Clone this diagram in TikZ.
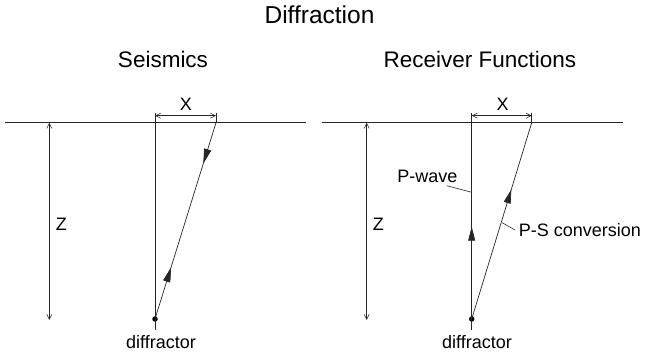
\documentclass[tikz,border=0pt]{standalone}
\usepackage{fontspec}
\setmainfont{Liberation Sans}
\usetikzlibrary{arrows.meta,decorations.markings}
\begin{document}
\begin{tikzpicture}[x=1pt,y=-1pt,line width=0.7pt,
  ln/.style={draw=black!85},
  dim/.style={draw=black!85,line width=0.6pt,{Straight Barb[length=5pt,width=5pt]}-{Straight Barb[length=5pt,width=5pt]}},
  lbl/.style={inner sep=0pt,anchor=base,font=\fontsize{18}{20}\selectfont},
  sub/.style={inner sep=0pt,anchor=base,font=\fontsize{22.5}{26}\selectfont},
  ttl/.style={inner sep=0pt,anchor=base,font=\fontsize{24.5}{28}\selectfont},
  dotn/.style={circle,fill=black,inner sep=0pt,minimum size=5.5pt},
  tipA/.style={decoration={markings,mark=at position #1 with {\arrow{Triangle[length=14pt,width=7pt]}}},postaction={decorate}},
  tipR/.style={decoration={markings,mark=at position #1 with {\arrowreversed{Triangle[length=14pt,width=7pt]}}},postaction={decorate}},
]
\useasboundingbox (0,0) rectangle (645,359);

% titles
\node[ttl] (title) at (319.5,23.3) {Diffraction};
\node[sub] (seis) at (163,67.5) {Seismics};
\node[sub] (rf) at (480,67.5) {Receiver Functions};

% ---------- left panel ----------
\coordinate (sL1) at (5,122.7);
\coordinate (sL2) at (306,122.7);
\coordinate (zLt) at (49.3,122.7);
\coordinate (zLb) at (49.3,320);
\coordinate (vLt) at (155,113);
\coordinate (vLb) at (155,330);
\coordinate (rL) at (216,122.7);
\coordinate (xLa) at (155,115.7);
\coordinate (xLb) at (216,115.7);
\coordinate (tLt) at (216,112.5);
\node[dotn] (dL) at (155,319) {};

\draw[ln,line width=0.9pt] (sL1) -- (sL2);
\draw[dim] (zLt) -- (zLb);
\draw[ln] (vLt) -- (vLb);
\draw[ln] (tLt) -- (rL);
\draw[dim] (xLa) -- (xLb);
\draw[ln,tipA=0.26,tipR=0.795] (dL.center) -- (rL);

\node[lbl] (XL) at (186,110) {X};
\node[lbl] (ZL) at (61.3,230.7) {Z};
\node[lbl] (dfL) at (161,348.5) {diffractor};

% ---------- right panel ----------
\coordinate (sR1) at (321.7,122.7);
\coordinate (sR2) at (623.3,122.7);
\coordinate (zRt) at (366.7,122.7);
\coordinate (zRb) at (366.7,320);
\coordinate (vRt) at (471.7,113);
\coordinate (vRb) at (471.7,330);
\coordinate (vRs) at (471.7,122.7);
\coordinate (rR) at (531.7,122.7);
\coordinate (xRa) at (471.7,115.7);
\coordinate (xRb) at (531.7,115.7);
\coordinate (tRt) at (531.7,112.5);
\node[dotn] (dR) at (471.7,319) {};

\draw[ln,line width=0.9pt] (sR1) -- (sR2);
\draw[dim] (zRt) -- (zRb);
\draw[ln] (vRt) -- (vRb);
\draw[ln] (tRt) -- (rR);
\draw[dim] (xRa) -- (xRb);
\draw[ln,tipA=0.47] (dR.center) -- (vRs);
\draw[ln,tipA=0.66] (dR.center) -- (rR);

\node[lbl] (XR) at (502.7,110) {X};
\node[lbl] (ZR) at (378.3,230.7) {Z};
\node[lbl] (dfR) at (477,348.5) {diffractor};

\node[lbl,anchor=base] (pw) at (427.3,182.7) {P-wave};
\coordinate (pwA) at (446.7,185.7);
\coordinate (pwB) at (471.7,192.3);
\draw[ln,line width=0.6pt] (pwA) -- (pwB);

\node[lbl,anchor=base west] (ps) at (518.5,236.7) {P-S conversion};
\coordinate (psA) at (502.2,222.7);
\coordinate (psB) at (515,230);
\draw[ln,line width=0.6pt] (psA) -- (psB);
\end{tikzpicture}
\end{document}
